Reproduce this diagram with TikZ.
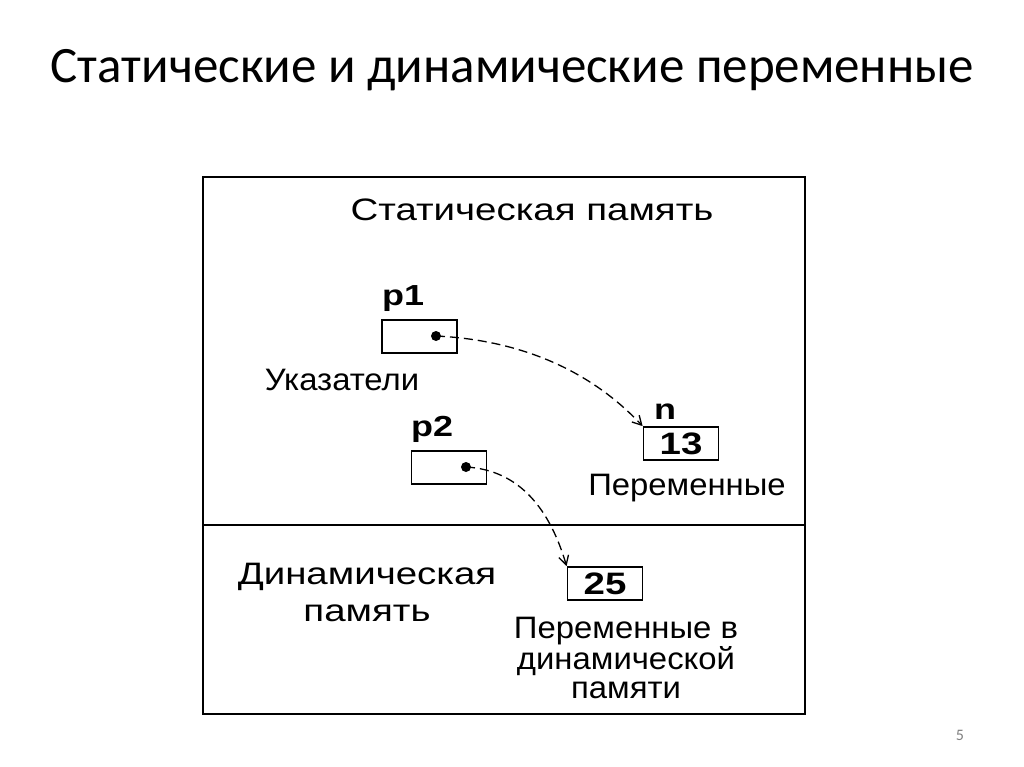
\documentclass[tikz,border=0pt]{standalone}
\usepackage{fontspec}
\setmainfont{Liberation Sans}
\newfontfamily\pix[FakeStretch=1.24]{Liberation Sans}
\newfontfamily\pixn[FakeStretch=1.06]{Liberation Sans}
\newfontfamily\titlefont{Carlito}
\usetikzlibrary{arrows.meta}
\begin{document}
\begin{tikzpicture}[x=1pt,y=-1pt,
  cell/.style={draw,line width=1.8pt,minimum width=75pt,minimum height=33pt,inner sep=0pt},
  lbl/.style={inner sep=0pt,font=\pix\fontsize{31}{33}\selectfont},
  nlbl/.style={inner sep=0pt,font=\pixn\fontsize{31}{33}\selectfont},
  blbl/.style={inner sep=0pt,font=\pix\fontsize{29}{30}\selectfont\bfseries},
  ptr/.style={line width=1.3pt,dash pattern=on 9pt off 5pt,-{Straight Barb[length=9pt,width=10pt]}},
  dotc/.style={circle,fill=black,inner sep=0pt,minimum size=10pt}]
\useasboundingbox (0,0) rectangle (1024,767);
\node[inner sep=0pt,anchor=base,font=\titlefont\fontsize{51}{53}\selectfont] (title) at (512,83) {Статические и динамические переменные};
\draw[line width=2pt] (203,177) rectangle (805,714);
\coordinate (dl) at (203,525);
\coordinate (dr) at (805,525);
\draw[line width=2pt] (dl) -- (dr);
\node[lbl] (stat) at (532,210) {Статическая память};
\node[cell] (p1) at (419.5,336.5) {};
\node[dotc] (d1) at (436,336) {};
\node[blbl,anchor=south west] (p1l) at (382,312) {p1};
\node[nlbl] (ukaz) at (342,380) {Указатели};
\node[cell] (p2) at (449,467.5) {};
\node[dotc] (d2) at (466,467) {};
\node[blbl,anchor=south west] (p2l) at (411,443) {p2};
\node[cell,font=\pix\fontsize{31}{33}\selectfont\bfseries] (n) at (681,443.5) {13};
\node[blbl,anchor=south west] (nl) at (654,420) {n};
\node[nlbl] (per) at (687,488) {Переменные};
\node[cell,font=\pix\fontsize{31}{33}\selectfont\bfseries] (v25) at (605,583.5) {25};
\node[lbl,align=center,font=\pix\fontsize{31}{37}\selectfont] (dyn) at (367,592) {Динамическая\\память};
\node[nlbl,align=center,font=\pixn\fontsize{31}{29}\selectfont] (perd) at (626,658) {Переменные в\\динамической\\памяти};
\node[inner sep=0pt,text=gray,font=\titlefont\fontsize{16}{18}\selectfont] (num) at (960,735) {5};
\draw[ptr] (d1.center) .. controls (520,340) and (590,370) .. (n.north west);
\draw[ptr] (d2.center) .. controls (520,470) and (550,510) .. (v25.north west);
\end{tikzpicture}
\end{document}
